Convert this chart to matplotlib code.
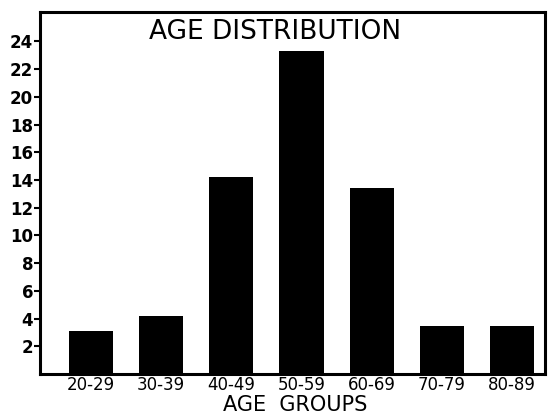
import numpy as np
import matplotlib
matplotlib.use('Agg')
import matplotlib.pyplot as plt

# Age groups and counts
groups = ['20-29', '30-39', '40-49', '50-59', '60-69', '70-79', '80-89']
counts = [3.1, 4.2, 14.2, 23.3, 13.4, 3.45, 3.5]
yticks = [2, 4, 6, 8, 10, 12, 14, 16, 18, 20, 22, 24]

plt.rcParams['font.family'] = ['DejaVu Sans']

fig = plt.figure(figsize=(5.48, 4.19), dpi=100)
ax = fig.add_axes([0.073, 0.107, 0.9215, 0.864])

x = np.arange(len(groups))
ax.bar(x, counts, width=0.63, color='black')

ax.set_xlim(-0.727, 6.47)
ax.set_ylim(0, 26.1)
ax.set_xticks(x)
ax.set_xticklabels(groups, fontsize=12)
ax.set_yticks(yticks)
ax.set_yticklabels([str(v) for v in yticks], fontsize=12, fontweight='bold')
ax.tick_params(axis='x', length=0, pad=1)
ax.tick_params(axis='y', length=4, width=1.5, pad=1)

for s in ax.spines.values():
    s.set_linewidth(2.2)

ax.text(0.465, 0.945, 'AGE DISTRIBUTION', transform=ax.transAxes,
        ha='center', va='center', fontsize=19)
fig.text(0.538, 0.033, 'AGE  GROUPS', ha='center', va='center', fontsize=15)

fig.savefig('out.png', dpi=100)
